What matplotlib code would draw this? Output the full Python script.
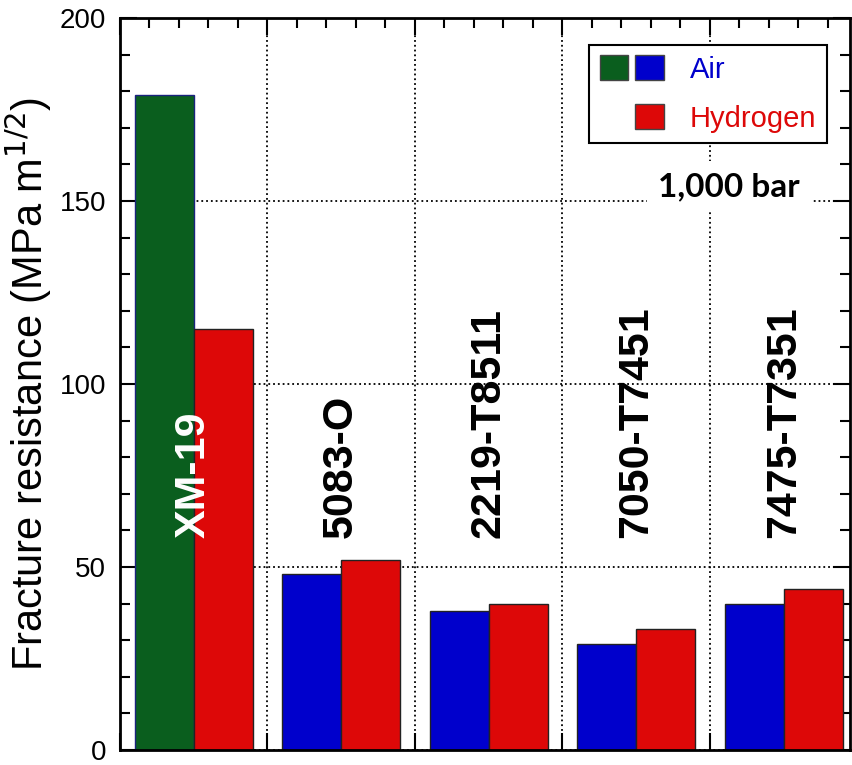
import numpy as np
import matplotlib.pyplot as plt
from matplotlib.patches import Patch
from matplotlib.legend_handler import HandlerTuple
from matplotlib.ticker import MultipleLocator

# fracture resistance of each alloy, tested in air and in hydrogen (1,000 bar)
alloys = ["XM-19", "5083-O", "2219-T8511", "7050-T7451", "7475-T7351"]
air = [179, 48, 38, 29, 40]
hydrogen = [115, 52, 40, 33, 44]

green = '#0a5e1e'
blue = '#0000cc'
red = '#dd0808'

plt.rcParams['font.family'] = ['Liberation Sans', 'DejaVu Sans']

fig = plt.figure(figsize=(8.52, 7.65), dpi=100)
ax = fig.add_axes([120/852, 15/765, 730/852, 732/765])

x = np.arange(len(alloys))
w = 0.4
airColors = [green] + [blue]*(len(alloys)-1)
airEdges = ['#1a237e'] + ['#222222']*(len(alloys)-1)
ax.bar(x + 0.1, air, w, align='edge', color=airColors, edgecolor=airEdges, linewidth=1, zorder=2)
ax.bar(x + 0.5, hydrogen, w, align='edge', color=red, edgecolor='#222222', linewidth=1, zorder=2)

# alloy names written up the bars
for i, name in enumerate(alloys):
   c = 'white' if i == 0 else 'black'
   ax.text(i + 0.5, 58, name, rotation=90, ha='center', va='bottom',
           fontsize=31, fontweight='bold', color=c, zorder=3)

ax.set_xlim(0, 4.95)
ax.set_ylim(0, 200)
ax.xaxis.set_major_locator(MultipleLocator(1))
ax.xaxis.set_minor_locator(MultipleLocator(0.2))
ax.yaxis.set_major_locator(MultipleLocator(50))
ax.yaxis.set_minor_locator(MultipleLocator(10))
ax.tick_params(which='both', direction='in', top=True, right=True, width=1.5)
ax.tick_params(which='major', length=12)
ax.tick_params(which='minor', length=7)
ax.tick_params(axis='y', labelsize=20, pad=10)
ax.set_xticklabels([])
for s in ax.spines.values():
   s.set_linewidth(2)

ax.grid(which='major', linestyle=':', color='k', linewidth=1.3)
ax.set_axisbelow(True)

ax.set_ylabel("Fracture resistance (MPa m$^{1/2}$)", fontsize=30)
ax.yaxis.set_label_coords(-0.09, 0.5)

ax.text(0.834, 0.77, "1,000 bar", transform=ax.transAxes, ha='center', va='center',
        fontsize=24, fontweight='bold', family=['Lato', 'DejaVu Sans'],
        bbox=dict(facecolor='white', edgecolor='none', pad=8), zorder=3)

# legend: green+blue together for air, red for hydrogen
blank = Patch(facecolor='none', edgecolor='none')
handles = [(Patch(facecolor=green, edgecolor='#444444'), Patch(facecolor=blue, edgecolor='#444444')),
           (blank, Patch(facecolor=red, edgecolor='#444444'))]
leg = ax.legend(handles, ["Air", "Hydrogen"], handler_map={tuple: HandlerTuple(ndivide=None, pad=0.25)},
                loc='upper right', bbox_to_anchor=(0.968, 0.963), borderaxespad=0, fontsize=21,
                labelcolor=[blue, red], fancybox=False, framealpha=1, edgecolor='black',
                handlelength=2.2, handleheight=0.95, handletextpad=0.9, labelspacing=0.7,
                borderpad=0.35)
leg.get_frame().set_linewidth(1.5)
leg.set_zorder(4)

plt.savefig('out.png', dpi=100)
